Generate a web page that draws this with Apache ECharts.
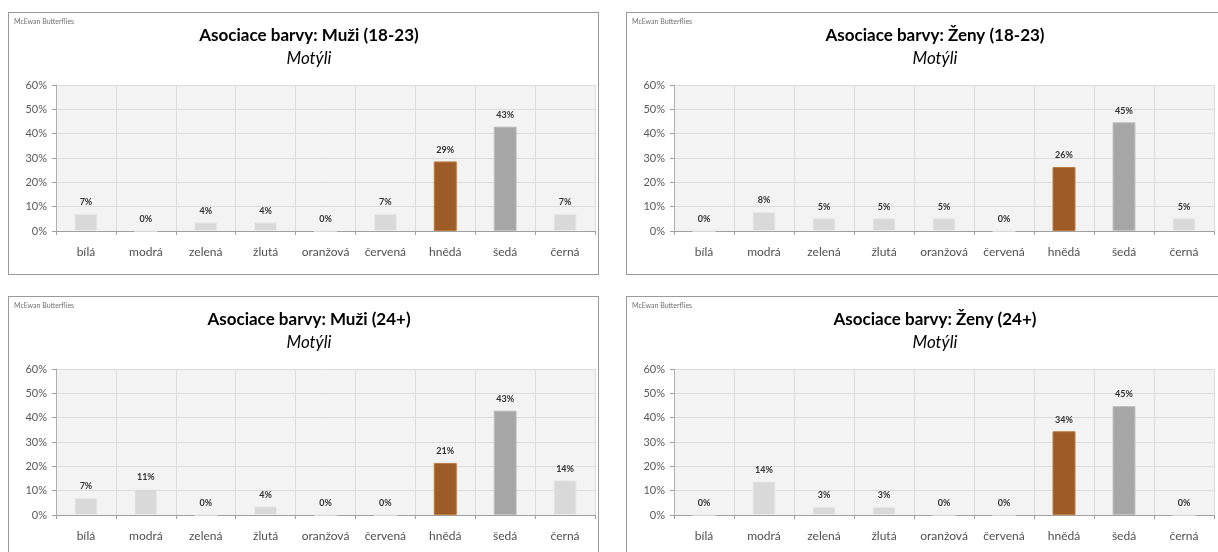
<!DOCTYPE html>
<html>
<head>
<meta charset="utf-8">
<script src="https://cdn.jsdelivr.net/npm/echarts@6/dist/echarts.min.js"></script>
<style>
html,body{margin:0;padding:0;background:#fff;width:1218px;height:552px;overflow:hidden;position:relative;}
.panel{position:absolute;border:1px solid #9a9a9a;background:#fff;box-sizing:border-box;}
</style>
</head>
<body>
<div id="p1" class="panel" style="left:8px;top:12px;width:591px;height:263px;"></div>
<div id="p2" class="panel" style="left:626px;top:12px;width:608px;height:263px;"></div>
<div id="p3" class="panel" style="left:8px;top:296px;width:591px;height:263px;"></div>
<div id="p4" class="panel" style="left:626px;top:296px;width:608px;height:263px;"></div>
<script>
// ---- data ----
const categories = ['bílá','modrá','zelená','žlutá','oranžová','červená','hnědá','šedá','černá'];
const yTickLabels = ['0%','10%','20%','30%','40%','50%','60%'];
const sourceNote = 'McEwan Butterflies';
const subtitle = 'Motýli';
const titles = [
  'Asociace barvy: Muži (18-23)',
  'Asociace barvy: Ženy (18-23)',
  'Asociace barvy: Muži (24+)',
  'Asociace barvy: Ženy (24+)'
];
const muzi1823 = [7.1, 0, 3.6, 3.6, 0, 7.1, 28.6, 42.9, 7.1];
const zeny1823 = [0, 7.9, 5.3, 5.3, 5.3, 0, 26.3, 44.7, 5.3];
const muzi24   = [7.1, 10.7, 0, 3.6, 0, 0, 21.4, 42.9, 14.3];
const zeny24   = [0, 13.8, 3.4, 3.4, 0, 0, 34.4, 44.8, 0];

// ---- styles ----
const barFill   = ['#d9d9d9','#d9d9d9','#d9d9d9','#d9d9d9','#d9d9d9','#d9d9d9','#9c5b27','#a6a6a6','#d9d9d9'];
const barBorder = ['#ececec','#ececec','#ececec','#ececec','#ececec','#ececec','#bf7a3e','#c4c4c4','#ececec'];
const FONT = 'Lato, "Open Sans", sans-serif';

function makeChart(id, title, values, gridRight) {
  const el = document.getElementById(id);
  const chart = echarts.init(el, null, {renderer:'canvas'});
  const cx = Math.round(el.clientWidth / 2) + 5;
  chart.setOption({
    animation: false,
    backgroundColor: 'transparent',
    title: [
      {text: sourceNote, left: 5, top: 5, padding: 0,
       textStyle: {fontSize: 7, fontWeight: 'normal', color: '#707070', fontFamily: FONT}},
      {text: title, left: cx, textAlign: 'center', top: 14, padding: 0,
       textStyle: {fontSize: 17, fontWeight: 'bold', color: '#000', fontFamily: FONT}},
      {text: subtitle, left: cx, textAlign: 'center', top: 37, padding: 0,
       textStyle: {fontSize: 17, fontStyle: 'italic', fontWeight: 'normal', color: '#000', fontFamily: FONT}}
    ],
    grid: {left: 47, right: gridRight, top: 72, bottom: 43, containLabel: false,
           show: true, backgroundColor: '#f3f3f3', borderWidth: 0},
    xAxis: {
      type: 'category', data: categories,
      axisLine: {show: true, lineStyle: {color: '#a0a0a0'}},
      axisTick: {show: true, length: 4, lineStyle: {color: '#a0a0a0'}},
      axisLabel: {interval: 0, margin: 15, fontSize: 12, color: '#505050', fontFamily: FONT},
      splitLine: {show: true, lineStyle: {color: '#dcdcdc'}}
    },
    yAxis: {
      type: 'value', min: 0, max: 60, interval: 10,
      axisLine: {show: true, lineStyle: {color: '#b0b0b0'}},
      axisTick: {show: true, length: 4, lineStyle: {color: '#a0a0a0'}},
      axisLabel: {margin: 9, fontSize: 11, color: '#595959', fontFamily: FONT,
                  formatter: (v) => yTickLabels[Math.round(v / 10)]},
      splitLine: {show: true, lineStyle: {color: '#dcdcdc'}}
    },
    series: [{
      type: 'bar', barWidth: 23,
      data: values.map((v, i) => ({value: v,
        itemStyle: {color: barFill[i], borderColor: barBorder[i], borderWidth: 1}})),
      label: {show: true, position: 'top', distance: 7, fontSize: 9, fontWeight: 'bold',
              color: '#333', fontFamily: FONT,
              formatter: (p) => Math.round(p.value) + '%'}
    }]
  });
}
makeChart('p1', titles[0], muzi1823, 3);
makeChart('p2', titles[1], zeny1823, 19);
makeChart('p3', titles[2], muzi24, 3);
makeChart('p4', titles[3], zeny24, 19);
</script>
</body>
</html>
